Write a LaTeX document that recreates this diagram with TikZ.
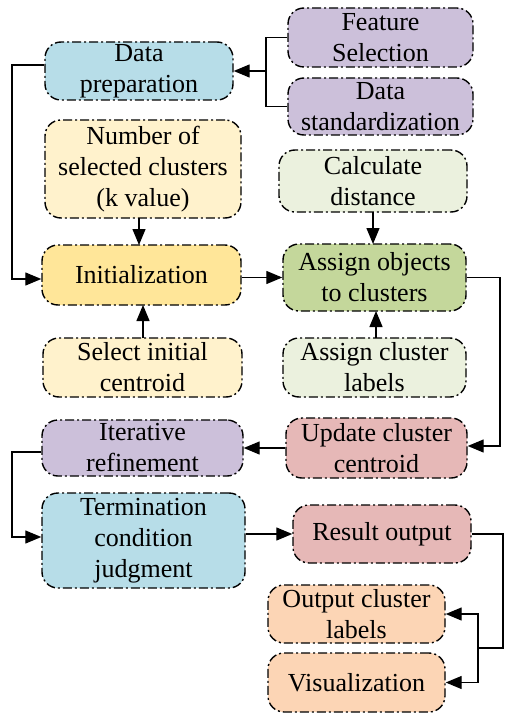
\documentclass[tikz,border=0pt]{standalone}
\usepackage{fontspec}
\setmainfont{Liberation Serif}
\usetikzlibrary{arrows.meta}
\definecolor{cblue}{HTML}{B7DDE8}
\definecolor{clav}{HTML}{CCC0DA}
\definecolor{cly}{HTML}{FFF2CC}
\definecolor{cgold}{HTML}{FFE699}
\definecolor{clg}{HTML}{EBF1DE}
\definecolor{cgreen}{HTML}{C4D79B}
\definecolor{crose}{HTML}{E6B8B7}
\definecolor{cpeach}{HTML}{FCD5B5}
\tikzset{
  box/.style={draw=black, line width=1.4pt, dash pattern=on 9pt off 3pt on 2pt off 3pt,
    rounded corners=16pt, inner sep=0pt, align=center,
    font=\fontsize{26}{31}\selectfont},
  conn/.style={line width=1.3pt, black},
  arr/.style={conn, -{Triangle[length=16pt,width=13pt]}}
}
\begin{document}
\begin{tikzpicture}[x=1pt,y=-1pt]
\useasboundingbox (0,0) rectangle (504,714);
% nodes
\node[box, fill=cblue, minimum width=188pt, minimum height=58pt] (dp) at (139,71) {Data\\preparation};
\node[box, fill=clav, minimum width=185pt, minimum height=59pt] (fs) at (380.5,37.5) {Feature\\Selection};
\node[box, fill=clav, minimum width=185pt, minimum height=57pt] (ds) at (380.5,106.5) {Data\\standardization};
\node[box, fill=cly, minimum width=196pt, minimum height=98pt] (nk) at (143,169) {Number of\\selected clusters\\(k value)};
\node[box, fill=clg, minimum width=188pt, minimum height=62pt] (cd) at (373,181) {Calculate\\distance};
\node[box, fill=cgold, minimum width=199pt, minimum height=60pt] (init) at (141.5,275) {Initialization};
\node[box, fill=cgreen, minimum width=183pt, minimum height=67pt] (ao) at (374.5,277.5) {Assign objects\\to clusters};
\node[box, fill=cly, minimum width=199pt, minimum height=59pt] (sc) at (142.5,367.5) {Select initial\\centroid};
\node[box, fill=clg, minimum width=183pt, minimum height=59pt] (al) at (374.5,367.5) {Assign cluster\\labels};
\node[box, fill=clav, minimum width=201pt, minimum height=56pt] (ir) at (142.5,448) {Iterative\\refinement};
\node[box, fill=crose, minimum width=181pt, minimum height=60pt] (uc) at (376.5,448) {Update cluster\\centroid};
\node[box, fill=cblue, minimum width=203pt, minimum height=95pt] (tc) at (143.5,540.5) {Termination\\condition\\judgment};
\node[box, fill=crose, minimum width=178pt, minimum height=58pt] (ro) at (382,534) {Result output};
\node[box, fill=cpeach, minimum width=177pt, minimum height=58pt] (ocl) at (356.5,614) {Output cluster\\labels};
\node[box, fill=cpeach, minimum width=177pt, minimum height=59pt] (vis) at (356.5,682.5) {Visualization};
% coordinates
\coordinate (j1) at (266,71);
\coordinate (c1) at (12,65);
\coordinate (c2) at (12,279);
\coordinate (c3) at (500,446);
\coordinate (c4) at (12,452);
\coordinate (c5) at (12,537);
\coordinate (c6) at (503,648);
\coordinate (c7) at (478,648);
% connectors
\draw[conn] (fs.west) -| (j1) |- (ds.west);
\draw[arr] (j1) -- (j1 -| dp.east);
\draw[arr] (c1 -| dp.west) -- (c1) -- (c2) -- (c2 -| init.west);
\draw[arr] (139,218) -- (139,245);
\draw[arr] (143,338) -- (143,305);
\draw[arr] (373,212) -- (373,244);
\draw[arr] (376,338) -- (376,311);
\draw[arr] (init.east |- ao.west) -- (ao.west);
\draw[arr] (ao.east) -| (c3) -- (c3 -| uc.east);
\draw[arr] (uc.west) -- (uc.west -| ir.east);
\draw[arr] (c4 -| ir.west) -- (c4) -- (c5) -- (c5 -| tc.west);
\draw[arr] (ro.west -| tc.east) -- (ro.west);
\draw[conn] (ro.east) -| (c6) -- (c7);
\draw[arr] (c7) |- (ocl.east);
\draw[arr] (c7) |- (vis.east);
\end{tikzpicture}
\end{document}
